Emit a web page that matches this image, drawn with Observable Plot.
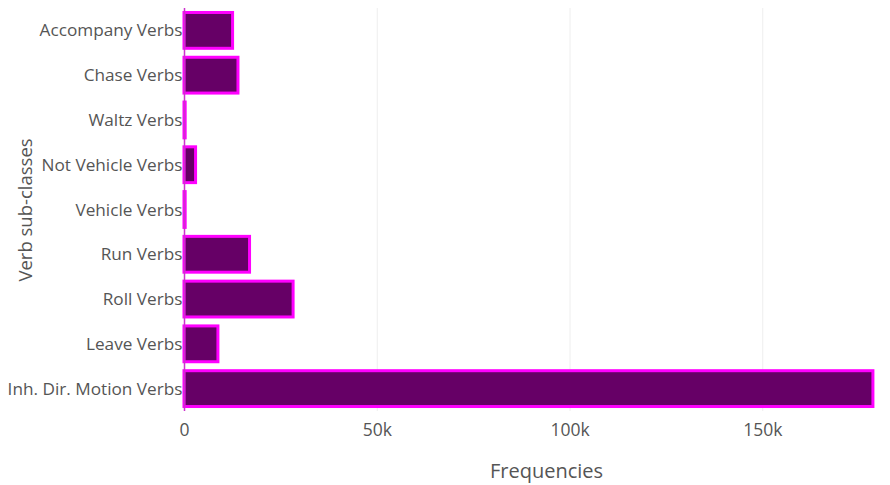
<!DOCTYPE html>
<html>
<head>
<meta charset="utf-8">
<script src="https://cdn.jsdelivr.net/npm/d3@7"></script>
<script src="https://cdn.jsdelivr.net/npm/@observablehq/plot@0.6"></script>
<style>
  html, body { margin: 0; padding: 0; background: #fff; }
  svg { font-family: "Open Sans", sans-serif; }
</style>
</head>
<body>
<div id="chart"></div>
<script>
const categories = [
  "Accompany Verbs", "Chase Verbs", "Waltz Verbs", "Not Vehicle Verbs",
  "Vehicle Verbs", "Run Verbs", "Roll Verbs", "Leave Verbs", "Inh. Dir. Motion Verbs"
];
const frequencies = [12600, 14000, 300, 3000, 300, 17000, 28300, 8800, 178700];
const xTicks = [0, 50000, 100000, 150000];
const xTickLabels = ["0", "50k", "100k", "150k"];

const data = categories.map((c, i) => ({category: c, value: frequencies[i]}));

const chart = Plot.plot({
  width: 890,
  height: 485,
  marginLeft: 184,
  marginRight: 14,
  marginTop: 8,
  marginBottom: 74,
  style: {fontFamily: "Open Sans, sans-serif", color: "#444", background: "#fff"},
  x: {domain: [0, 179500], ticks: xTicks},
  y: {domain: categories, paddingInner: 0.2, paddingOuter: 0.1, round: false},
  marks: [
    Plot.gridX(xTicks.slice(1), {stroke: "#eee", strokeOpacity: 1, strokeWidth: 1}),
    Plot.barX(data, {x: "value", y: "category", fill: "#660066", stroke: "#ff00ff", strokeWidth: 3}),
    Plot.ruleX([0], {stroke: "#cc33cc", strokeWidth: 1.5}),
    Plot.axisX({
      ticks: xTicks, tickFormat: (d) => xTickLabels[xTicks.indexOf(d)],
      tickSize: 0, tickPadding: 12, fontSize: 17.5, fill: "#555",
      label: "Frequencies", labelAnchor: "center", labelArrow: "none", labelOffset: 66
    }),
    Plot.axisY({
      tickSize: 0, tickPadding: 2, fontSize: 17.2, fill: "#555",
      label: "Verb sub-classes", labelAnchor: "center", labelArrow: "none", labelOffset: 166
    })
  ]
});
chart.querySelectorAll("[aria-label='x-axis label'] text").forEach(t => { t.setAttribute("font-size", 20); t.setAttribute("dx", 16); });
chart.querySelectorAll("[aria-label='y-axis label'] text").forEach(t => t.setAttribute("font-size", 18.5));
document.getElementById("chart").appendChild(chart);
</script>
</body>
</html>
